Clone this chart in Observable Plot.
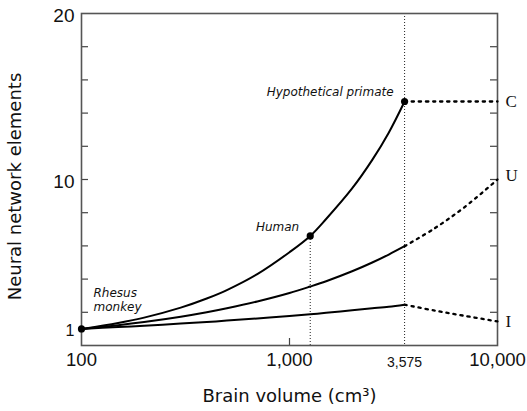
<!DOCTYPE html>
<html>
<head>
<meta charset="utf-8">
<script src="https://cdn.jsdelivr.net/npm/d3@7"></script>
<script src="https://cdn.jsdelivr.net/npm/@observablehq/plot@0.6"></script>
<style>
  html, body { margin: 0; padding: 0; background: #fff; }
  #chart { width: 527px; height: 411px; }
</style>
</head>
<body>
<div id="chart"></div>
<script>
// Brain volumes (cm3) for the solid curves
const volumes = [100, 150, 200, 300, 400, 500, 700, 1000, 1258, 1500, 2000, 2500, 3000, 3575];
// Series values
const seriesC = [1, 1.36, 1.68, 2.28, 2.83, 3.34, 4.30, 5.62, 6.6, 7.62, 9.46, 11.18, 12.82, 14.7];
const seriesU = [1, 1.22, 1.41, 1.73, 2.0, 2.24, 2.65, 3.16, 3.55, 3.87, 4.47, 5.0, 5.48, 5.98];
const seriesI = [1, 1.11, 1.19, 1.32, 1.41, 1.50, 1.63, 1.78, 1.88, 1.97, 2.12, 2.24, 2.34, 2.46];
// Extrapolated (dotted) parts
const extVolumes = [3575, 5000, 7000, 10000];
const extC = [14.7, 14.7, 14.7, 14.7];
const extU = [5.98, 7.07, 8.37, 10.0];
const extI = [2.46, 2.1, 1.78, 1.45];
const seriesNames = ["C", "U", "I"];
// Highlighted species
const pointNames = ["Rhesus monkey", "Human", "Hypothetical primate"];
const pointVolumes = [100, 1258, 3575];
const pointValues = [1, 6.6, 14.7];
// Axis ticks
const xTickValues = [100, 1000, 10000];
const xTickSmall = [3575];
const yTickLabels = [1, 10, 20];
const yMinorTicks = [2, 4, 6, 8, 10, 12, 14, 16, 18];

const solid = [];
[seriesC, seriesU, seriesI].forEach((vals, k) => vals.forEach((v, i) => solid.push({x: volumes[i], y: v, s: seriesNames[k]})));
const dotted = [];
[extC, extU, extI].forEach((vals, k) => vals.forEach((v, i) => dotted.push({x: extVolumes[i], y: v, s: seriesNames[k]})));
const endLabels = [extC, extU, extI].map((vals, k) => ({x: extVolumes[extVolumes.length - 1], y: vals[vals.length - 1], s: seriesNames[k]}));
const points = pointNames.map((n, i) => ({name: n, x: pointVolumes[i], y: pointValues[i]}));

const W = 527, H = 411, mL = 81, mR = 30, mT = 13, mB = 66;
const pw = W - mL - mR, ph = H - mT - mB;
const sans = "Liberation Sans, Arial, Helvetica, sans-serif";
const wide = "DejaVu Sans, Verdana, sans-serif";
const serif = "Liberation Serif, Times New Roman, serif";

const chart = Plot.plot({
  width: W, height: H,
  marginLeft: mL, marginRight: mR, marginTop: mT, marginBottom: mB,
  style: {fontFamily: sans, background: "#fff", overflow: "visible"},
  x: {type: "log", domain: [100, 10000], axis: null},
  y: {type: "linear", domain: [0, 20], axis: null},
  marks: [
    // reference dotted verticals
    Plot.ruleX([3575], {stroke: "#222", strokeWidth: 1, strokeDasharray: "1,2"}),
    Plot.ruleX([points[1]], {x: "x", y1: 0, y2: "y", stroke: "#222", strokeWidth: 1, strokeDasharray: "1,2"}),
    // inner ticks
    Plot.tickY(yMinorTicks, {y: d => d, insetRight: pw - 7, stroke: "#444", strokeWidth: 1.2}),
    Plot.tickY(yMinorTicks, {y: d => d, insetLeft: pw - 7, stroke: "#444", strokeWidth: 1.2}),
    Plot.tickX([1000], {x: d => d, insetTop: ph - 7, stroke: "#444", strokeWidth: 1.2}),
    Plot.frame({stroke: "#555", strokeWidth: 1.6}),
    // curves
    Plot.line(solid, {x: "x", y: "y", z: "s", curve: "catmull-rom", stroke: "#000", strokeWidth: 2}),
    Plot.line(dotted, {x: "x", y: "y", z: "s", curve: "catmull-rom", stroke: "#000", strokeWidth: 2.3, strokeDasharray: "2.3,4.8"}),
    Plot.dot(points, {x: "x", y: "y", r: 3.6, fill: "#000", stroke: "none"}),
    // annotations
    Plot.text(points.slice(1), {x: "x", y: "y", text: "name", textAnchor: "end", dx: -11, dy: -9, fontFamily: wide, fontStyle: "italic", fontSize: 12, fill: "#111"}),
    Plot.text([points[0]], {x: "x", y: "y", text: d => "Rhesus\nmonkey", textAnchor: "start", lineAnchor: "bottom", lineHeight: 1.15, dx: 12, dy: -18, fontFamily: wide, fontStyle: "italic", fontSize: 12, fill: "#111"}),
    Plot.text(endLabels.filter(d => d.s !== "U"), {y: "y", text: "s", frameAnchor: "right", textAnchor: "start", dx: 8, fontFamily: serif, fontSize: 17, fill: "#111"}),
    Plot.text(endLabels.filter(d => d.s === "U"), {y: "y", text: "s", frameAnchor: "right", textAnchor: "start", dx: 8, dy: -4, fontFamily: serif, fontSize: 17, fill: "#111"}),
    // tick labels
    Plot.text(xTickValues, {x: d => d, frameAnchor: "bottom", dy: 20, text: d => d3.format(",")(d), fontSize: 18.5, fill: "#111"}),
    Plot.text(xTickSmall, {x: d => d, frameAnchor: "bottom", dy: 21, text: d => d3.format(",")(d), fontSize: 14, fill: "#111"}),
    Plot.text(yTickLabels, {y: d => d, frameAnchor: "left", textAnchor: "end", dx: -7, dy: 2, text: d => String(d), fontSize: d => d === 1 ? 16 : 19, fill: "#111"}),
    // axis titles
    Plot.text(["Brain volume (cm³)"], {frameAnchor: "bottom", textAnchor: "middle", dy: 56, text: d => d, fontFamily: wide, fontSize: 18, fill: "#111"}),
    Plot.text(["Neural network elements"], {frameAnchor: "left", textAnchor: "middle", dx: -66, dy: 7, rotate: -90, text: d => d, fontFamily: wide, fontSize: 18, fill: "#111"})
  ]
});
document.getElementById("chart").appendChild(chart);
</script>
</body>
</html>
